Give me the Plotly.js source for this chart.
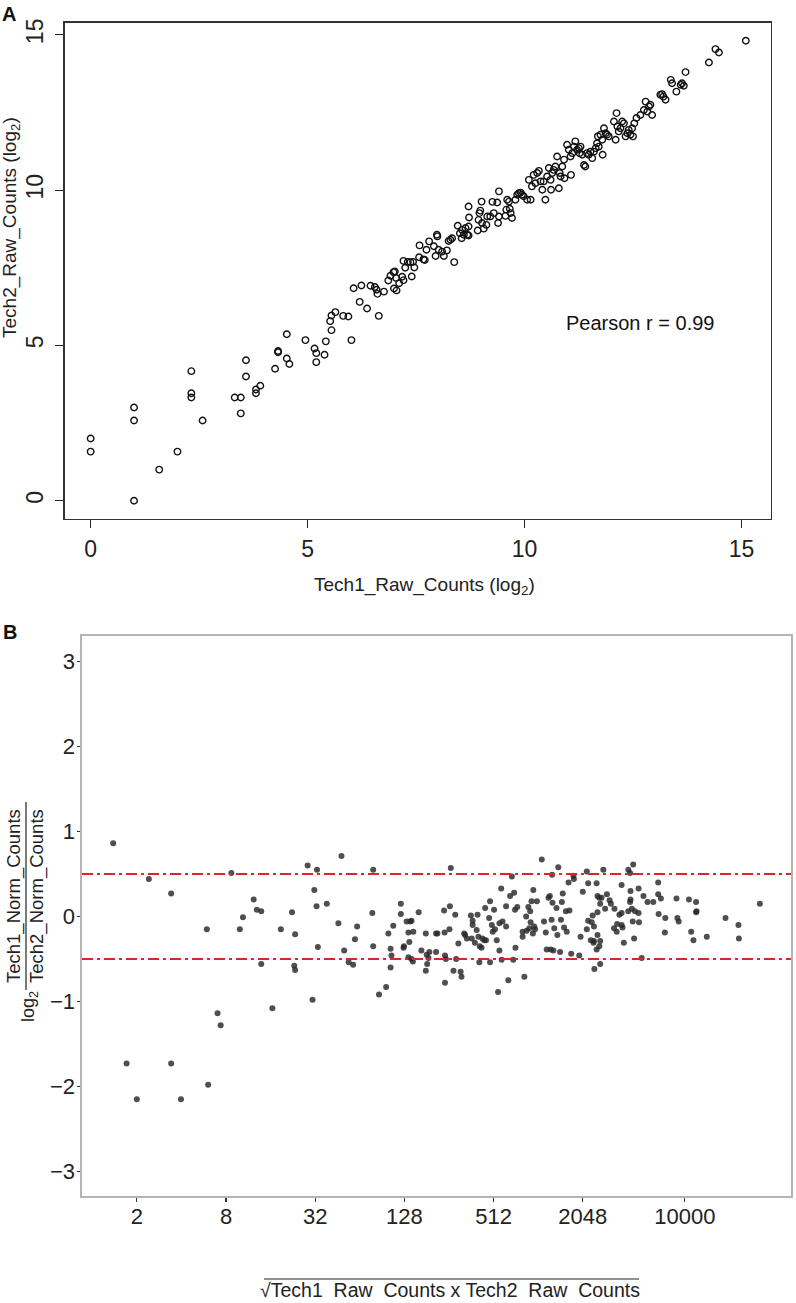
<!DOCTYPE html>
<html>
<head>
<meta charset="utf-8">
<script src="https://cdn.plot.ly/plotly-3.0.1.min.js"></script>
<style>html,body{margin:0;padding:0;background:#fff;}#chart{width:796px;height:1303px;}</style>
</head>
<body>
<div id="chart"></div>
<script>
// ---------- Panel A: log2 raw counts, Tech1 vs Tech2 ----------
const aTech1Log2 = [
0,0,1,1,1,1.58,2,2.32,2.32,2.32,
2.58,3.32,3.46,3.46,3.58,3.58,3.81,3.81,3.91,4.25,
4.32,4.32,4.52,4.52,4.58,4.95,5.16,5.2,5.2,5.39,
5.42,5.52,5.55,5.55,5.64,5.82,5.94,6.01,6.06,6.2,
6.24,6.37,6.45,6.55,6.59,6.61,6.64,6.76,6.86,6.91,
6.98,7.01,6.99,7.05,7.04,7.11,7.18,7.21,7.25,7.21,
7.31,7.37,7.43,7.4,7.46,7.57,7.58,7.67,7.7,7.74,
7.8,7.91,7.95,7.98,7.99,8.02,8.1,8.14,8.21,8.25,
8.29,8.33,8.38,8.46,8.51,8.55,8.56,8.6,8.64,8.68,
8.71,8.72,8.71,8.71,8.92,8.94,8.96,8.98,9.01,9.02,
9.06,9.12,9.14,9.21,9.26,9.29,9.37,9.39,9.41,9.41,
9.56,9.58,9.6,9.64,9.66,9.68,9.71,9.79,9.83,9.87,
9.91,9.94,9.98,10.06,10.1,10.14,10.17,10.21,10.25,10.29,
10.33,10.37,10.41,10.44,10.48,10.52,10.56,10.6,10.61,10.64,
10.67,10.71,10.75,10.79,10.81,10.83,10.87,10.91,10.92,10.98,
11.02,11.06,11.07,11.1,11.14,11.17,11.21,11.25,11.29,11.27,
11.33,11.37,11.4,11.44,11.48,11.52,11.56,11.6,11.64,11.67,
11.69,11.71,11.75,11.79,11.8,11.83,11.87,11.9,11.94,12.06,
12.1,12.12,12.14,12.17,12.21,12.25,12.29,12.33,12.37,12.4,
12.44,12.48,12.5,12.53,12.58,12.67,12.75,12.79,12.83,12.87,
12.9,12.94,13.13,13.17,13.2,13.25,13.37,13.4,13.5,13.6,
13.63,13.67,13.71,14.25,14.4,14.48,15.1];
const aTech2Log2 = [
2,1.58,3,2.58,0,1,1.58,4.17,3.46,3.32,
2.58,3.32,3.32,2.81,4.52,4,3.58,3.46,3.7,4.25,
4.82,4.78,5.36,4.58,4.4,5.17,4.9,4.75,4.46,4.7,
5.13,5.78,5.96,5.49,6.07,5.95,5.93,5.17,6.84,6.4,
6.93,6.19,6.92,6.88,6.79,6.66,5.95,6.73,7.09,7.24,
7.36,7.38,6.83,6.77,7.17,7.0,7.21,7.1,7.5,7.72,
7.69,7.68,7.69,7.22,7.51,7.84,8.22,7.77,7.75,8.08,
8.35,8.19,7.88,8.56,8.51,8.08,8.02,7.88,8.06,8.36,
8.40,8.45,7.68,8.85,8.61,8.45,8.72,8.56,8.78,8.56,
8.83,9.12,9.47,8.54,8.70,9.04,9.26,9.34,9.63,8.94,
8.76,8.88,9.15,9.15,9.62,9.26,9.60,8.94,9.15,9.96,
9.17,9.37,9.69,9.63,9.40,9.26,9.10,9.69,9.85,9.90,
9.92,9.85,9.80,9.69,10.33,9.69,10.12,10.49,10.22,10.55,
10.62,10.28,10.01,10.28,9.69,10.44,10.71,10.33,10.01,10.55,
10.65,10.76,11.08,10.06,10.55,10.44,10.76,10.98,10.38,11.46,
11.30,11.08,10.49,11.19,11.40,11.57,11.30,11.35,11.40,11.19,
11.14,10.81,10.76,11.19,11.14,11.24,11.03,11.24,11.35,11.51,
11.73,11.40,11.78,11.62,11.14,11.99,11.83,11.78,11.73,12.21,
11.62,12.48,12.05,11.89,11.99,12.21,12.15,11.73,11.83,11.94,
11.78,11.99,11.73,12.15,12.32,12.42,12.58,12.85,12.53,12.69,
12.75,12.42,13.07,13.09,13.01,12.91,13.55,13.44,13.17,13.39,
13.44,13.36,13.80,14.11,14.54,14.43,14.81];
const aTicks = [0, 5, 10, 15];
const pearsonText = "Pearson r = 0.99";

// ---------- Panel B: MA-style plot ----------
// log2 of sqrt(Tech1_Raw_Counts x Tech2_Raw_Counts)
const bLog2GeoMean = [
0.47,1.27,1.77,2.57,3.12,3.31,3.38,3.62,3.69,3.79,
3.79,4.23,4.48,4.55,4.53,4.55,4.83,4.98,5.03,5.04,
5.06,5.26,4.94,5.52,5.59,5.65,5.75,5.85,5.89,5.94,
6.28,6.30,6.30,6.43,2.81,2.88,4.04,0.77,1.77,1.00,
1.99,2.60,6.59,6.69,6.71,6.69,6.64,6.75,6.92,6.92,
6.99,6.98,7.05,7.09,7.11,7.13,7.16,7.09,7.16,7.19,
7.20,7.32,7.38,7.48,7.48,7.50,7.51,7.54,7.56,7.71,
7.71,7.74,7.89,7.90,7.91,7.91,7.93,8.01,8.02,8.14,
8.16,8.10,8.21,8.26,8.28,8.34,8.36,8.40,8.49,8.51,
8.53,8.53,8.58,8.62,8.64,8.66,8.68,8.69,8.73,8.75,
8.79,8.81,8.83,8.90,8.92,8.92,8.96,8.98,9.01,9.03,
9.07,9.10,9.13,9.13,9.17,9.18,9.20,9.28,9.28,9.33,
9.37,9.41,9.44,9.46,9.48,9.49,9.53,9.65,9.65,9.69,
9.73,9.74,9.78,9.80,9.82,9.83,9.85,9.88,9.89,9.91,
9.93,9.97,10.13,10.17,10.19,10.23,10.26,10.28,10.30,10.32,
10.34,10.36,10.41,10.43,10.49,10.51,10.53,10.55,10.58,10.62,
10.64,10.68,10.70,10.31,8.04,10.08,10.45,11.09,11.46,12.02,
12.13,10.80,10.79,11.00,11.12,11.31,11.33,11.37,11.39,11.42,
11.54,11.60,11.63,11.50,11.33,11.22,11.12,11.20,11.25,11.09,
10.95,11.33,11.18,11.25,11.39,11.37,11.31,11.24,10.74,10.92,
11.39,11.26,11.71,11.82,11.87,11.70,11.76,11.77,11.87,11.89,
11.87,11.92,12.02,12.06,12.07,12.07,12.10,12.12,12.15,12.17,
12.25,12.25,12.26,12.32,12.06,12.36,12.45,12.58,12.69,12.69,
12.70,12.75,12.85,12.84,13.10,13.12,13.15,13.38,13.43,13.48,
13.54,13.54,13.55,13.78,14.20,14.49,14.50,14.97];
// log2(Tech1_Norm_Counts / Tech2_Norm_Counts)
const bLog2Ratio = [
0.86,0.44,0.27,-0.15,0.51,-0.15,-0.01,0.20,0.08,0.06,
-0.56,-0.15,0.05,-0.21,-0.58,-0.63,0.60,0.31,0.12,0.55,
-0.36,0.15,-0.98,-0.08,0.71,-0.40,-0.54,-0.57,-0.27,-0.12,
0.04,0.55,-0.35,-0.92,-1.14,-1.28,-1.08,-1.73,-1.73,-2.15,
-2.15,-1.98,-0.83,-0.38,-0.46,-0.60,-0.20,-0.11,0.15,0.03,
-0.35,-0.37,-0.06,-0.19,-0.30,-0.06,-0.05,-0.48,-0.50,-0.53,
-0.18,0.05,-0.40,-0.20,-0.64,-0.45,-0.56,-0.49,-0.42,-0.20,
-0.42,-0.20,0.07,-0.19,-0.46,-0.78,-0.50,-0.15,0.12,0.02,
-0.50,-0.64,-0.32,-0.65,-0.71,-0.20,-0.22,-0.26,0.01,-0.26,
-0.10,-0.05,-0.31,-0.16,0.02,-0.24,-0.54,-0.35,-0.37,-0.26,
-0.28,0.10,-0.28,-0.02,0.18,-0.54,-0.10,-0.18,0.08,-0.15,
-0.28,-0.89,-0.40,-0.08,0.33,-0.51,-0.06,0.12,-0.12,-0.75,
0.24,0.47,-0.51,0.28,0.08,-0.37,0.11,-0.18,-0.24,-0.71,
0.00,-0.17,0.11,-0.14,0.06,-0.07,0.18,-0.20,0.31,-0.12,
-0.15,0.18,-0.06,-0.19,-0.39,0.22,0.24,-0.39,-0.04,0.16,
-0.40,-0.14,0.10,-0.22,-0.42,-0.04,0.17,0.27,-0.13,0.06,
-0.18,0.40,0.07,0.49,0.57,0.67,0.58,0.53,0.55,0.55,
0.61,0.44,0.48,0.29,0.39,0.39,0.24,0.22,0.15,0.22,
0.26,0.19,0.15,0.09,0.05,0.01,-0.05,-0.07,-0.12,-0.15,
-0.24,-0.22,-0.28,-0.29,-0.29,-0.35,-0.39,-0.31,-0.44,-0.46,
-0.56,-0.62,0.09,0.02,0.04,-0.14,-0.18,-0.09,-0.10,-0.13,
0.37,-0.31,0.06,0.17,0.20,0.30,0.09,-0.06,-0.26,0.06,
0.04,0.33,-0.07,-0.49,0.51,0.24,0.17,0.17,0.26,0.40,
0.03,0.21,-0.02,-0.19,0.21,-0.02,-0.06,0.20,-0.18,-0.28,
0.17,0.05,0.06,-0.24,-0.02,-0.10,-0.26,0.15];
const bThreshold = 0.5;
const bXTickLabels = ["2", "8", "32", "128", "512", "2048", "10000"];
const bXTickLog2 = bXTickLabels.map(s => Math.log2(Number(s)));
const bYTicks = [-3, -2, -1, 0, 1, 2, 3];

// ---------- layout helpers (pixel -> paper) ----------
const W = 796, H = 1303;
const px = v => v / W;
const py = v => 1 - v / H;
const SANS = "Liberation Sans, Arial, Helvetica, sans-serif";

const traces = [
  {
    type: "scatter", mode: "markers", xaxis: "x", yaxis: "y",
    x: aTech1Log2, y: aTech2Log2,
    marker: {symbol: "circle-open", size: 6.5, color: "#111111", line: {width: 1.4, color: "#111111"}},
    hoverinfo: "x+y"
  },
  {
    type: "scatter", mode: "markers", xaxis: "x2", yaxis: "y2",
    x: bLog2GeoMean, y: bLog2Ratio,
    marker: {symbol: "circle", size: 6, color: "rgba(40,40,40,0.82)", line: {width: 0}},
    hoverinfo: "x+y"
  }
];

const layout = {
  width: W, height: H,
  margin: {l: 0, r: 0, t: 0, b: 0},
  paper_bgcolor: "#ffffff", plot_bgcolor: "#ffffff",
  showlegend: false,
  font: {family: SANS, color: "#222222"},
  xaxis: {
    domain: [px(64.5), px(771)], anchor: "y",
    range: [-0.603, 15.68],
    tickmode: "array", tickvals: aTicks, ticktext: aTicks.map(String),
    ticks: "outside", ticklen: 8, tickwidth: 1.2, tickcolor: "#222",
    showline: true, mirror: true, linecolor: "#333", linewidth: 1.3,
    showgrid: false, zeroline: false,
    tickfont: {family: SANS, size: 23, color: "#222"},
    ticklabelstandoff: 1
  },
  yaxis: {
    domain: [py(519), py(22.7)], anchor: "x",
    range: [-0.59, 15.39],
    tickmode: "array", tickvals: aTicks, ticktext: aTicks.map(String),
    tickangle: -90,
    ticks: "outside", ticklen: 8, tickwidth: 1.2, tickcolor: "#222",
    showline: true, mirror: true, linecolor: "#333", linewidth: 1.3,
    showgrid: false, zeroline: false,
    tickfont: {family: SANS, size: 23, color: "#222"},
    ticklabelstandoff: 3
  },
  xaxis2: {
    domain: [px(82), px(791)], anchor: "y2",
    range: [-0.229, 15.668],
    tickmode: "array", tickvals: bXTickLog2, ticktext: bXTickLabels,
    ticks: "outside", ticklen: 4, tickwidth: 1.2, tickcolor: "#333",
    showline: true, mirror: true, linecolor: "#b4b4b4", linewidth: 1.6,
    showgrid: false, zeroline: false,
    tickfont: {family: SANS, size: 22, color: "#222"},
    ticklabelstandoff: -4
  },
  yaxis2: {
    domain: [py(1196), py(636)], anchor: "x2",
    range: [-3.29, 3.30],
    tickmode: "array", tickvals: bYTicks, ticktext: bYTicks.map(v => v < 0 ? "\u2212" + Math.abs(v) : String(v)),
    ticks: "outside", ticklen: 3, tickwidth: 1.5, tickcolor: "#333",
    showline: true, mirror: true, linecolor: "#b4b4b4", linewidth: 1.6,
    showgrid: false, zeroline: false,
    tickfont: {family: SANS, size: 22, color: "#222"},
    ticklabelstandoff: -2
  },
  shapes: [
    {type: "line", xref: "x2 domain", yref: "y2", x0: 0, x1: 1, y0: bThreshold, y1: bThreshold,
     line: {color: "#d9262b", width: 2, dash: "11px,4px,3px,4px"}},
    {type: "line", xref: "x2 domain", yref: "y2", x0: 0, x1: 1, y0: -bThreshold, y1: -bThreshold,
     line: {color: "#d9262b", width: 2, dash: "11px,4px,3px,4px"}},
    // fraction bar of the y-axis title (panel B)
    {type: "line", xref: "paper", yref: "paper", x0: px(26), x1: px(26), y0: py(802), y1: py(990),
     line: {color: "#222", width: 1.2}},
    // radical overline of the x-axis title (panel B)
    {type: "line", xref: "paper", yref: "paper", x0: px(264), x1: px(639), y0: py(1279), y1: py(1279),
     line: {color: "#222", width: 1.2}}
  ],
  annotations: [
    {text: "<b>A</b>", xref: "paper", yref: "paper", x: px(9), y: py(14), showarrow: false,
     xanchor: "center", yanchor: "middle", font: {family: SANS, size: 20, color: "#111"}},
    {text: "<b>B</b>", xref: "paper", yref: "paper", x: px(10), y: py(632), showarrow: false,
     xanchor: "center", yanchor: "middle", font: {family: SANS, size: 20, color: "#111"}},
    {text: pearsonText, xref: "x", yref: "y", x: 12.67, y: 5.73, showarrow: false,
     xanchor: "center", yanchor: "middle", font: {family: SANS, size: 20, color: "#111"}},
    {text: "Tech1_Raw_Counts (log<sub>2</sub>)", xref: "paper", yref: "paper", x: px(425), y: py(586),
     showarrow: false, xanchor: "center", yanchor: "middle", font: {family: SANS, size: 19, color: "#222"}},
    {text: "Tech2_Raw_Counts (log<sub>2</sub>)", xref: "paper", yref: "paper", x: px(11), y: py(228),
     showarrow: false, textangle: -90, xanchor: "center", yanchor: "middle", font: {family: SANS, size: 19, color: "#222"}},
    {text: "Tech1_Norm_Counts", xref: "paper", yref: "paper", x: px(14), y: py(896),
     showarrow: false, textangle: -90, xanchor: "center", yanchor: "middle", font: {family: SANS, size: 18.5, color: "#222"}},
    {text: "Tech2_Norm_Counts", xref: "paper", yref: "paper", x: px(37), y: py(896),
     showarrow: false, textangle: -90, xanchor: "center", yanchor: "middle", font: {family: SANS, size: 18.5, color: "#222"}},
    {text: "log<sub>2</sub>", xref: "paper", yref: "paper", x: px(29), y: py(1007),
     showarrow: false, textangle: -90, xanchor: "center", yanchor: "middle", font: {family: SANS, size: 18, color: "#222"}},
    {text: "\u221aTech1\u00a0\u00a0Raw\u00a0\u00a0Counts x Tech2\u00a0\u00a0Raw\u00a0\u00a0Counts", xref: "paper", yref: "paper",
     x: px(450), y: py(1290), showarrow: false, xanchor: "center", yanchor: "middle",
     font: {family: SANS, size: 19.5, color: "#222"}}
  ]
};

Plotly.newPlot("chart", traces, layout, {staticPlot: true, displayModeBar: false});
</script>
</body>
</html>
